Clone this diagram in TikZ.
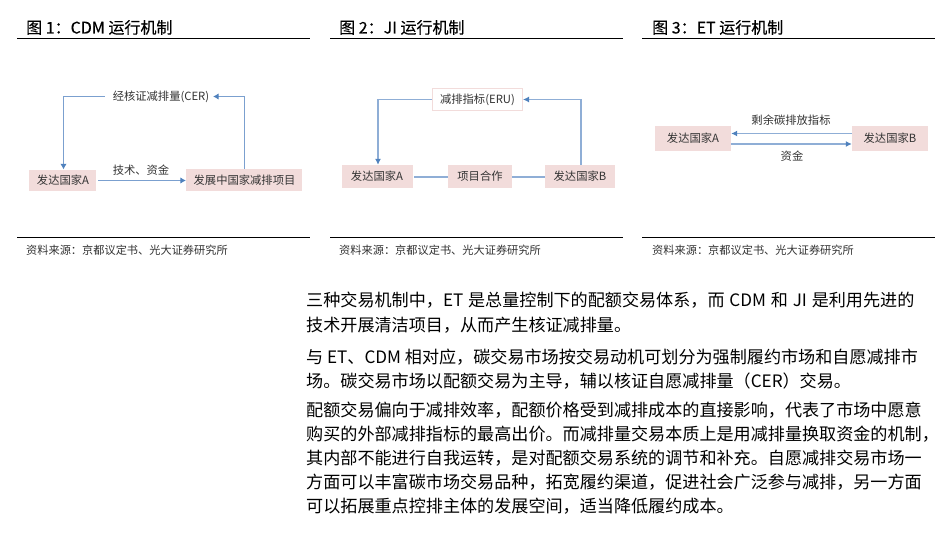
\documentclass[tikz,border=0pt]{standalone}
\usepackage{fontspec}
\setmainfont{Noto Sans CJK SC}
\newfontfamily\boldcjk[FakeBold=0.3]{Noto Sans CJK SC}
\definecolor{pinkbox}{HTML}{F2DCDB}
\definecolor{linkblue}{HTML}{7BA0CF}
\definecolor{tipblue}{HTML}{4F81BD}
\definecolor{inktext}{HTML}{333333}
\usetikzlibrary{arrows.meta}
\tikzset{
 fig/.style={font=\fontsize{16}{18}\selectfont\boldcjk,text=black,anchor=base west,inner sep=0pt},
 src/.style={font=\fontsize{11.2}{13}\selectfont,text=inktext,anchor=base west,inner sep=0pt},
 pink/.style={fill=pinkbox,inner sep=0pt,font=\fontsize{11.3}{13}\selectfont,text=inktext},
 lbl/.style={font=\fontsize{11.3}{13}\selectfont,text=inktext,inner sep=0pt},
 body/.style={font=\fontsize{17.1}{19}\selectfont,text=black,anchor=base west,inner sep=0pt},
 rulez/.style={black,line width=1pt},
 link/.style={draw=linkblue,line width=1pt},
 linkb/.style={draw=linkblue!85,line width=1.5pt},
 arr/.style={link,-{Latex[length=5.5pt,width=6.5pt,color=tipblue]}},
 arrb/.style={linkb,-{Latex[length=6pt,width=6pt,color=tipblue]}},
}
\begin{document}
\begin{tikzpicture}[x=1pt,y=-1pt]
\useasboundingbox (0,0) rectangle (946,535);
% headers
\node[fig] (t1) at (26,33.5) {图 1：CDM 运行机制};
\node[fig] (t2) at (339,33.5) {图 2：JI 运行机制};
\node[fig] (t3) at (652,33.5) {图 3：ET 运行机制};
\coordinate (r1a) at (17,38.5); \coordinate (r1b) at (310,38.5);
\coordinate (r2a) at (330,38.5); \coordinate (r2b) at (623,38.5);
\coordinate (r3a) at (642,38.5); \coordinate (r3b) at (935,38.5);
\draw[rulez] (r1a)--(r1b); \draw[rulez] (r2a)--(r2b); \draw[rulez] (r3a)--(r3b);
\coordinate (s1a) at (17,237.5); \coordinate (s1b) at (310,237.5);
\coordinate (s2a) at (330,237.5); \coordinate (s2b) at (623,237.5);
\coordinate (s3a) at (642,237.5); \coordinate (s3b) at (935,237.5);
\draw[rulez] (s1a)--(s1b); \draw[rulez] (s2a)--(s2b); \draw[rulez] (s3a)--(s3b);
\node[src] (c1) at (26,254) {资料来源：京都议定书、光大证券研究所};
\node[src] (c2) at (339,254) {资料来源：京都议定书、光大证券研究所};
\node[src] (c3) at (652,254) {资料来源：京都议定书、光大证券研究所};
% fig 1
\node[pink,minimum width=67pt,minimum height=21pt] (a1) at (62.5,180) {\hspace{1pt}发达国家A};
\node[pink,minimum width=116pt,minimum height=22pt] (p1) at (244,180) {\hspace{1pt}发展中国家减排项目};
\node[lbl,minimum width=108pt,minimum height=16pt] (cer) at (159,96.5) {\hspace{4pt}经核证减排量(CER)};
\node[lbl] (tech) at (141,170) {技术、资金};
\draw[arr] (98,180.5) -- (p1.west |- 0,180.5);
\draw[arr] (p1.north -| 244.5,0) |- (cer.east);
\draw[arr] (cer.west) -| (a1.north -| 63.5,0);
% fig 2
\node[pink,minimum width=71pt,minimum height=23pt] (a2) at (377,176.5) {发达国家A};
\node[pink,minimum width=64pt,minimum height=23pt] (m2) at (480,176.5) {项目合作};
\node[pink,minimum width=70pt,minimum height=23pt] (b2) at (580,176.5) {发达国家B};
\node[lbl,draw=pinkbox,fill=white,line width=1pt,minimum width=90pt,minimum height=22pt] (eru) at (477.5,99.5) {减排指标(ERU)};
\draw[linkb] (414,177) -- (m2.west |- 0,177);
\draw[linkb] (m2.east |- 0,177) -- (b2.west |- 0,177);
\draw[arrb] (b2.north -| 581,0) |- (eru.east);
\draw[arrb] (eru.west) -| (a2.north -| 378,0);
% fig 3
\node[pink,minimum width=76pt,minimum height=25pt] (a3) at (693,138.5) {发达国家A};
\node[pink,minimum width=76pt,minimum height=25pt] (b3) at (890,138.5) {发达国家B};
\node[lbl] (sur) at (791,120.5) {剩余碳排放指标};
\node[lbl] (fund) at (792,156.5) {资金};
\draw[arrb] (b3.west |- 0,133.5) -- (a3.east |- 0,133.5);
\draw[arrb] (a3.east |- 0,144) -- (b3.west |- 0,144);
% body
\node[body] (l1) at (306,306) {三种交易机制中，ET\hspace{1pt} 是总量控制下的配额交易体系，而\hspace{1pt} CDM\hspace{1pt} 和\hspace{1pt} JI\hspace{1pt} 是利用先进的};
\node[body] (l2) at (306,331) {技术开展清洁项目，从而产生核证减排量。};
\node[body] (l3) at (306,363) {与 ET、CDM 相对应，碳交易市场按交易动机可划分为强制履约市场和自愿减排市};
\node[body] (l4) at (306,387) {场。碳交易市场以配额交易为主导，辅以核证自愿减排量（CER）交易。};
\node[body] (l5) at (306,416) {配额交易偏向于减排效率，配额价格受到减排成本的直接影响，代表了市场中愿意};
\node[body] (l6) at (306,440) {购买的外部减排指标的最高出价。而减排量交易本质上是用减排量换取资金的机制，};
\node[body] (l7) at (306,464) {其内部不能进行自我运转，是对配额交易系统的调节和补充。自愿减排交易市场一};
\node[body] (l8) at (306,488) {方面可以丰富碳市场交易品种，拓宽履约渠道，促进社会广泛参与减排，另一方面};
\node[body] (l9) at (306,512) {可以拓展重点控排主体的发展空间，适当降低履约成本。};
\end{tikzpicture}
\end{document}
